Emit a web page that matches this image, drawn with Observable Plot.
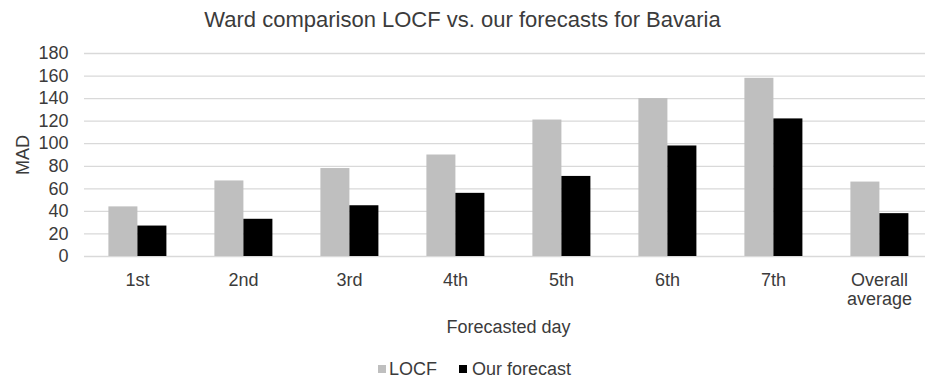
<!DOCTYPE html>
<html>
<head>
<meta charset="utf-8">
<script src="https://cdn.jsdelivr.net/npm/d3@7"></script>
<script src="https://cdn.jsdelivr.net/npm/@observablehq/plot@0.6"></script>
<style>
  html, body { margin: 0; padding: 0; background: #fff; overflow: hidden; }
  body { width: 925px; height: 379px; font-family: "Liberation Sans", Arial, sans-serif; color: #3b3b3b; }
  #title { height: 40px; line-height: 40px; font-size: 22px; text-align: center; }
  #chart svg { display: block; }
  #legend { margin-top: 9px; line-height: 30px; font-size: 18px; display: flex; justify-content: center; align-items: center; padding-left: 24px; }
  #legend .item { display: flex; align-items: center; }
  #legend .sw { width: 8px; height: 8px; display: inline-block; }
</style>
</head>
<body>
<div id="title">Ward comparison LOCF vs. our forecasts for Bavaria</div>
<div id="chart"></div>
<div id="legend"></div>
<script>
const days = ["1st", "2nd", "3rd", "4th", "5th", "6th", "7th", "Overall average"];
const dayLabels = ["1st", "2nd", "3rd", "4th", "5th", "6th", "7th", "Overall\naverage"];
const series = ["LOCF", "Our forecast"];
const locfValues = [44, 67, 78, 90, 121, 140, 158, 66];
const ourValues = [27, 33, 45, 56, 71, 98, 122, 38];
const yTicks = [0, 20, 40, 60, 80, 100, 120, 140, 160, 180];
const colors = ["#bfbfbf", "#000000"];

const data = days.flatMap((d, i) => [
  {day: d, series: series[0], value: locfValues[i]},
  {day: d, series: series[1], value: ourValues[i]}
]);

const chart = Plot.plot({
  width: 925,
  height: 305,
  marginTop: 13,
  marginBottom: 89,
  marginLeft: 81.6,
  marginRight: -10.4,
  style: {fontFamily: "Liberation Sans, Arial, sans-serif", fontSize: "18px", color: "#3b3b3b", background: "#fff"},
  fx: {domain: days, padding: 0},
  x: {domain: series, paddingInner: 0, paddingOuter: 0.778, axis: null},
  y: {domain: [0, 180]},
  color: {domain: series, range: colors},
  marks: [
    Plot.gridY(yTicks, {stroke: "#d9d9d9", strokeOpacity: 1, strokeWidth: 1.3}),
    Plot.axisY(yTicks, {anchor: "left", tickSize: 0, tickPadding: 16, fontSize: 18, label: "MAD", labelAnchor: "center", labelArrow: "none", labelOffset: 68}),
    Plot.axisFx({anchor: "bottom", tickSize: 0, tickPadding: 16, fontSize: 18, lineHeight: 1.06, tickFormat: d => dayLabels[days.indexOf(d)], label: "Forecasted day", labelAnchor: "center", labelArrow: "none", labelOffset: 76}),
    Plot.barY(data, {fx: "day", x: "series", y: "value", fill: "series"})
  ]
});
document.getElementById("chart").appendChild(chart);

const legend = document.getElementById("legend");
series.forEach((s, i) => {
  const item = document.createElement("span");
  item.className = "item";
  item.style.marginRight = i === 0 ? "22px" : "0";
  const sw = document.createElement("span");
  sw.className = "sw";
  sw.style.background = colors[i];
  sw.style.marginRight = i === 0 ? "3px" : "5px";
  const t = document.createElement("span");
  t.textContent = s;
  item.appendChild(sw);
  item.appendChild(t);
  legend.appendChild(item);
});
</script>
</body>
</html>
